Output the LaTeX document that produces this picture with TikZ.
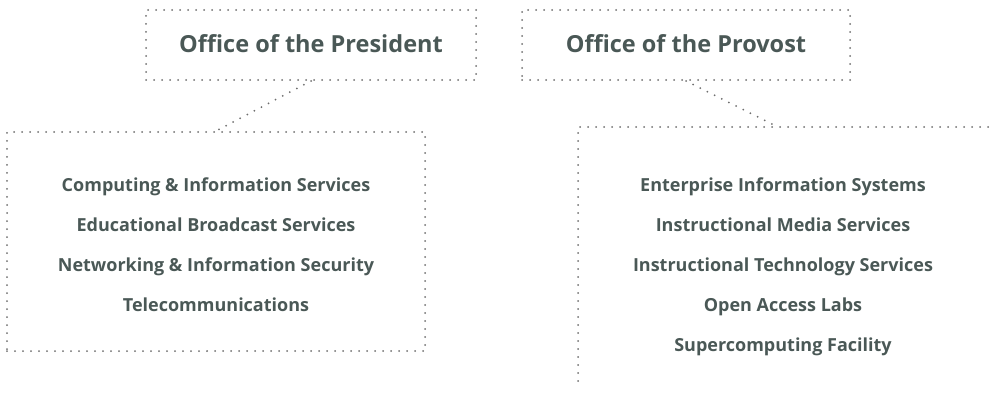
\documentclass[tikz,border=0pt]{standalone}
\usepackage{fontspec}
\setmainfont{Open Sans}
\definecolor{txt}{HTML}{4A5856}
\definecolor{dotc}{HTML}{6E6E6E}
\tikzset{
  dotline/.style={draw=dotc, line width=2pt, line cap=round, dash pattern=on 0pt off 8pt},
  title/.style={font=\fontsize{23.5}{26}\selectfont\bfseries, text=txt, inner sep=0pt, anchor=base},
  item/.style={font=\fontsize{18}{21}\selectfont\bfseries, text=txt, inner sep=0pt, anchor=base},
  boxshape/.style={dotline, inner sep=0pt}
}
\begin{document}
\begin{tikzpicture}[x=1pt,y=-1pt]
\useasboundingbox (0,0) rectangle (993,393);
% top boxes
\node[boxshape, minimum width=330pt, minimum height=70pt] (pres) at (311,45) {};
\node[title] (prest) at (311,53) {Office of the President};
\node[boxshape, minimum width=328pt, minimum height=70pt] (prov) at (686,45) {};
\node[title] (provt) at (686,53) {Office of the Provost};
% left box
\node[boxshape, minimum width=418pt, minimum height=219pt] (lbox) at (216,241.5) {};
\node[item] (l1) at (216,191) {Computing \& Information Services};
\node[item] (l2) at (216,231) {Educational Broadcast Services};
\node[item] (l3) at (216,271) {Networking \& Information Security};
\node[item] (l4) at (216,311) {Telecommunications};
% right open box
\coordinate (rtop) at (778,127);
\coordinate (rcorner) at (578,127);
\coordinate (rright) at (996,127);
\coordinate (rbottom) at (578,387);
\draw[dotline] (rright) -- (rcorner) -- (rbottom);
\node[item] (r1) at (783,191) {Enterprise Information Systems};
\node[item] (r2) at (783,231) {Instructional Media Services};
\node[item] (r3) at (783,271) {Instructional Technology Services};
\node[item] (r4) at (783,311) {Open Access Labs};
\node[item] (r5) at (783,351) {Supercomputing Facility};
% connectors
\draw[dotline] (pres.south) -- (lbox.north);
\draw[dotline] (prov.south) -- (rtop);
\end{tikzpicture}
\end{document}
